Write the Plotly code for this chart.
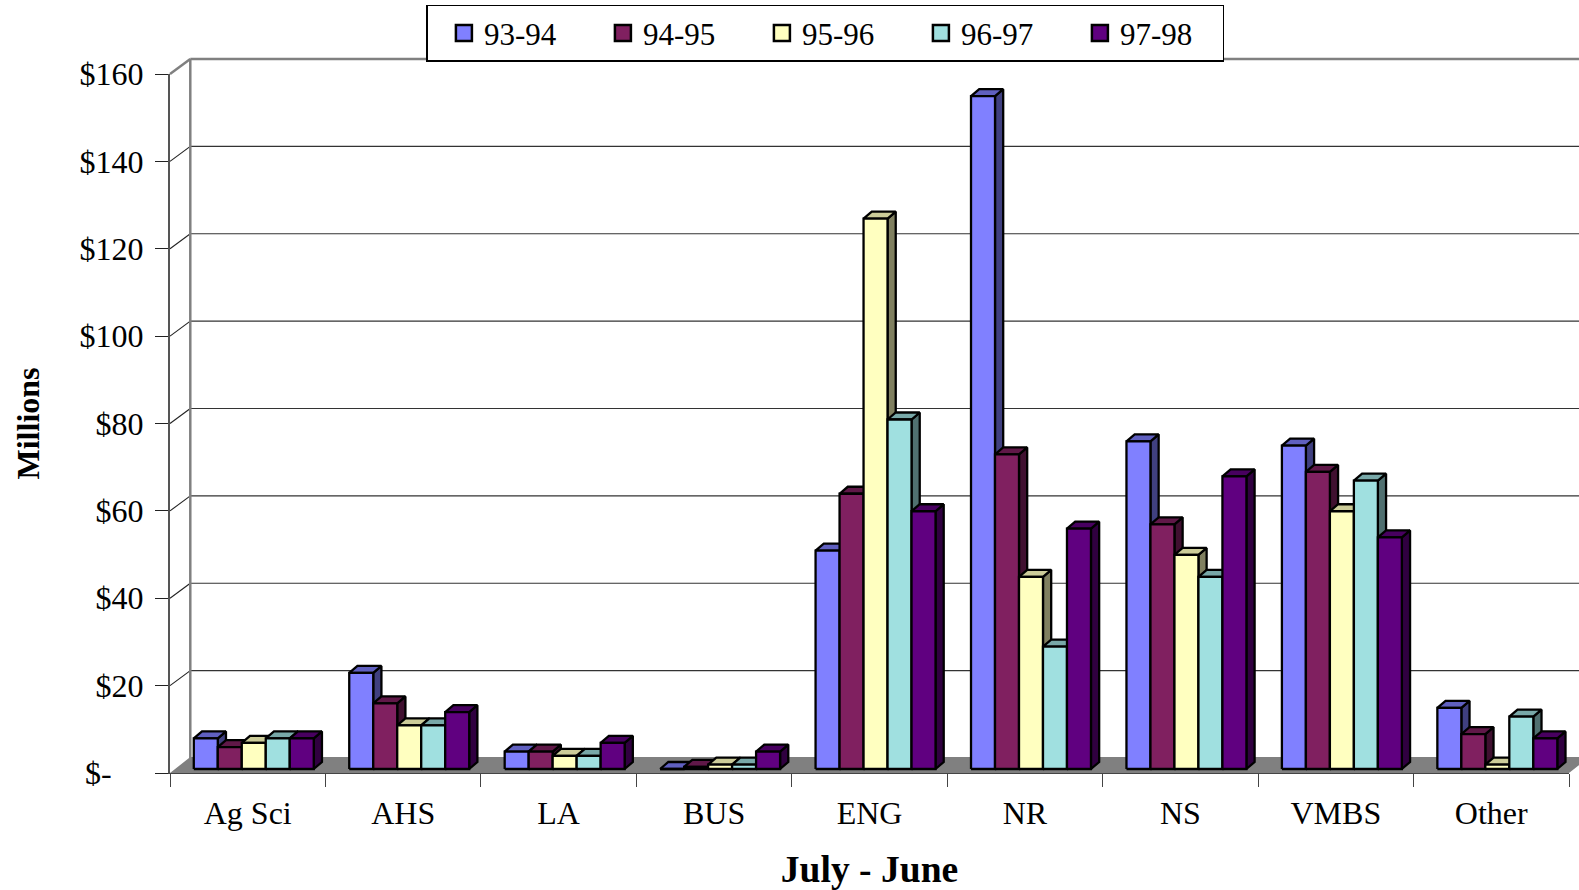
import numpy as np
import plotly.graph_objects as go

categories = ["Ag Sci", "AHS", "LA", "BUS", "ENG", "NR", "NS", "VMBS", "Other"]
series_names = ["93-94", "94-95", "95-96", "96-97", "97-98"]
v_93_94 = [7, 22, 4, 0, 50, 154, 75, 74, 14]
v_94_95 = [5, 15, 4, 0.5, 63, 72, 56, 68, 8]
v_95_96 = [6, 10, 3, 1, 126, 44, 49, 59, 1]
v_96_97 = [7, 10, 3, 1, 80, 28, 44, 66, 12]
v_97_98 = [7, 13, 6, 4, 59, 55, 67, 53, 7]
series_values = [v_93_94, v_94_95, v_95_96, v_96_97, v_97_98]
y_ticks = [0, 20, 40, 60, 80, 100, 120, 140, 160]
y_tick_labels = ["$-\u00a0\u00a0\u00a0\u00a0", "$20", "$40", "$60", "$80", "$100", "$120", "$140", "$160"]

front_colors = ["#8080FF", "#802060", "#FFFFC0", "#A0E0E0", "#600080"]
top_colors = ["#6060C0", "#601848", "#CCCC99", "#78A8A8", "#480060"]
side_colors = ["#404080", "#401030", "#808060", "#507070", "#300040"]

W, H = 1579, 890
L, R, T, B = 170.0, 1569.5, 73.7, 773.0
PW, PH = R - L, B - T
XU = PW / len(categories)          # px per category
YU = PH / 160.0                    # px per $M
WALL_X, WALL_Y = 20.3, 15.0        # depth of the walls
BASE_X, BASE_Y = 23.8, 4.0         # bar group offset within a category
BAR_W = 24.0
DEPTH_X, DEPTH_Y = 8.2, 7.0
FONT = "Liberation Serif"


def px(x):
    return (x - L) / PW


def py(y):
    return (B - y) / PH


shapes = []
# floor
shapes.append(dict(type="path", xref="paper", yref="paper", layer="below",
                   path=f"M {px(L)} {py(B)} L {px(L + WALL_X)} {py(B - WALL_Y - 1)} "
                        f"L {px(W + 5)} {py(B - WALL_Y - 1)} L {px(W + 5)} {py(B - 10)} "
                        f"L {px(W)} {py(B - 7.5)} L {px(R)} {py(B)} Z",
                   fillcolor="#808080", line=dict(width=0)))
# back wall gridlines + side wall diagonals
for t in y_ticks:
    yf = B - t * YU
    if t > 0:
        shapes.append(dict(type="line", xref="paper", yref="paper", layer="below",
                           x0=px(L + WALL_X), x1=px(W + 5), y0=py(yf - WALL_Y), y1=py(yf - WALL_Y),
                           line=dict(color="#808080" if t == 160 else "#333333",
                                     width=2.5 if t == 160 else 1.1)))
    if 0 < t < 160:
        shapes.append(dict(type="line", xref="paper", yref="paper", layer="below",
                           x0=px(L), x1=px(L + WALL_X), y0=py(yf), y1=py(yf - WALL_Y),
                           line=dict(color="#222222", width=1.1)))
# wall edges
shapes.append(dict(type="line", xref="paper", yref="paper", layer="below",
                   x0=px(L), x1=px(L + WALL_X), y0=py(T), y1=py(T - WALL_Y),
                   line=dict(color="#808080", width=2.5)))
shapes.append(dict(type="line", xref="paper", yref="paper", layer="below",
                   x0=px(L + WALL_X), x1=px(L + WALL_X), y0=py(T - WALL_Y), y1=py(B - WALL_Y),
                   line=dict(color="#808080", width=2.5)))

fig = go.Figure()


def faces(values, s):
    fx, fy, tx, ty, sx, sy = [], [], [], [], [], []
    dx, dy = DEPTH_X / XU, DEPTH_Y / YU
    by = BASE_Y / YU
    bw = BAR_W / XU
    for c, v in enumerate(values):
        x0 = c + BASE_X / XU + s * bw
        x1 = x0 + bw
        top = by + v
        fx += [x0, x1, x1, x0, x0, None]
        fy += [by, by, top, top, by, None]
        tx += [x0, x0 + dx, x1 + dx, x1, x0, None]
        ty += [top, top + dy, top + dy, top, top, None]
        sx += [x1, x1 + dx, x1 + dx, x1, x1, None]
        sy += [by, by + dy, top + dy, top, by, None]
    return fx, fy, tx, ty, sx, sy


for s, (name, values) in enumerate(zip(series_names, series_values)):
    fx, fy, tx, ty, sx, sy = faces(values, s)
    for xs, ys, col in ((sx, sy, side_colors[s]), (tx, ty, top_colors[s]), (fx, fy, front_colors[s])):
        fig.add_trace(go.Scatter(x=xs, y=ys, mode="lines", fill="toself", fillcolor=col,
                                 line=dict(color="#000000", width=2.3), showlegend=False,
                                 hoverinfo="skip", legendgroup=name))

for s, name in enumerate(series_names):
    fig.add_trace(go.Scatter(x=[None], y=[None], mode="markers", name=name, legendgroup=name,
                             marker=dict(symbol="square", size=16, color=front_colors[s],
                                         line=dict(color="#000000", width=2.5))))

fig.update_layout(
    width=W, height=H, autosize=False,
    margin=dict(l=L, r=W - R, t=T, b=H - B, pad=0, autoexpand=False),
    paper_bgcolor="white", plot_bgcolor="white",
    font=dict(family=FONT, size=32, color="#000000"),
    shapes=shapes,
    showlegend=True,
    legend=dict(orientation="h", x=px(426.5), y=py(4.5), xanchor="left", yanchor="top",
                bgcolor="white", bordercolor="#000000", borderwidth=1.5,
                font=dict(family=FONT, size=31), entrywidth=98, entrywidthmode="pixels",
                itemwidth=30, itemsizing="trace", traceorder="normal", itemclick=False,
                indentation=16),
    xaxis=dict(range=[0, len(categories)], tickmode="array",
               tickvals=[i + 0.5 for i in range(len(categories))], ticktext=categories,
               ticks="", ticklen=0, showgrid=False, zeroline=False, showline=True,
               linecolor="#444444", linewidth=1.2, ticklabelstandoff=11,
               tickfont=dict(family=FONT, size=32),
               minor=dict(tickmode="array", tickvals=list(range(len(categories) + 1)),
                          ticks="outside", ticklen=13, tickcolor="#444444", tickwidth=1.2,
                          showgrid=False),
               title=dict(text="<b>July - June</b>", standoff=33,
                          font=dict(family=FONT, size=37.6))),
    yaxis=dict(range=[0, 160], tickmode="array", tickvals=y_ticks, ticktext=y_tick_labels,
               ticks="outside", ticklen=13, tickcolor="#222222", tickwidth=1.2,
               showgrid=False, zeroline=False, showline=True, linecolor="#555555", linewidth=2,
               ticklabelstandoff=5, tickfont=dict(family=FONT, size=32),
               title=dict(text="<b>Millions</b>", standoff=30,
                          font=dict(family=FONT, size=32))),
)

fig.write_html("out.html", config=dict(displayModeBar=False),
               post_script="document.body.style.margin='0';")
